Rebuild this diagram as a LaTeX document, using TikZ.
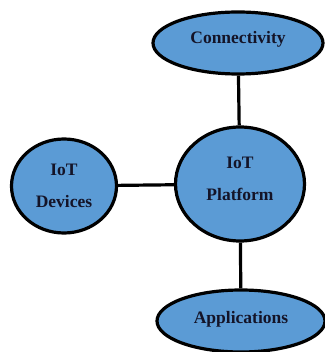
\documentclass[tikz,border=0pt]{standalone}
\usepackage{fontspec}
\setmainfont{Liberation Serif}
\usetikzlibrary{shapes.geometric,backgrounds}
\definecolor{bubble}{HTML}{5B9BD5}
\definecolor{ink}{HTML}{141428}
\tikzset{
  bubblenode/.style={ellipse, draw=black, line width=3.2pt, fill=bubble, inner sep=0pt},
  caption/.style={text=ink, align=center, font=\fontsize{17.5}{32}\bfseries\selectfont},
  link/.style={line width=3.2pt, draw=black}
}
\begin{document}
\begin{tikzpicture}[x=1pt,y=-1pt]
  \useasboundingbox (0,0) rectangle (324,352);
  % the four bubbles
  \node[bubblenode, minimum width=170pt, minimum height=62pt] (conn) at (238,43) {};
  \node[bubblenode, minimum width=129pt, minimum height=114pt] (plat) at (240,184) {};
  \node[bubblenode, minimum width=105pt, minimum height=94pt] (dev) at (64,186) {};
  \node[bubblenode, minimum width=168pt, minimum height=62pt] (apps) at (241,321) {};
  % their captions
  \node[caption] (connlbl) at ([yshift=4pt]conn.center) {Connectivity};
  \node[caption] (platlbl) at ([yshift=5pt]plat.center) {IoT\\Platform};
  \node[caption] (devlbl) at (dev.center) {IoT\\Devices};
  \node[caption] (appslbl) at ([yshift=2pt]apps.center) {Applications};
  % links, kept behind the bubbles
  \begin{scope}[on background layer]
    \draw[link] (conn) -- (plat);
    \draw[link] (plat) -- (apps);
    \draw[link] (dev) -- (plat);
  \end{scope}
\end{tikzpicture}
\end{document}
